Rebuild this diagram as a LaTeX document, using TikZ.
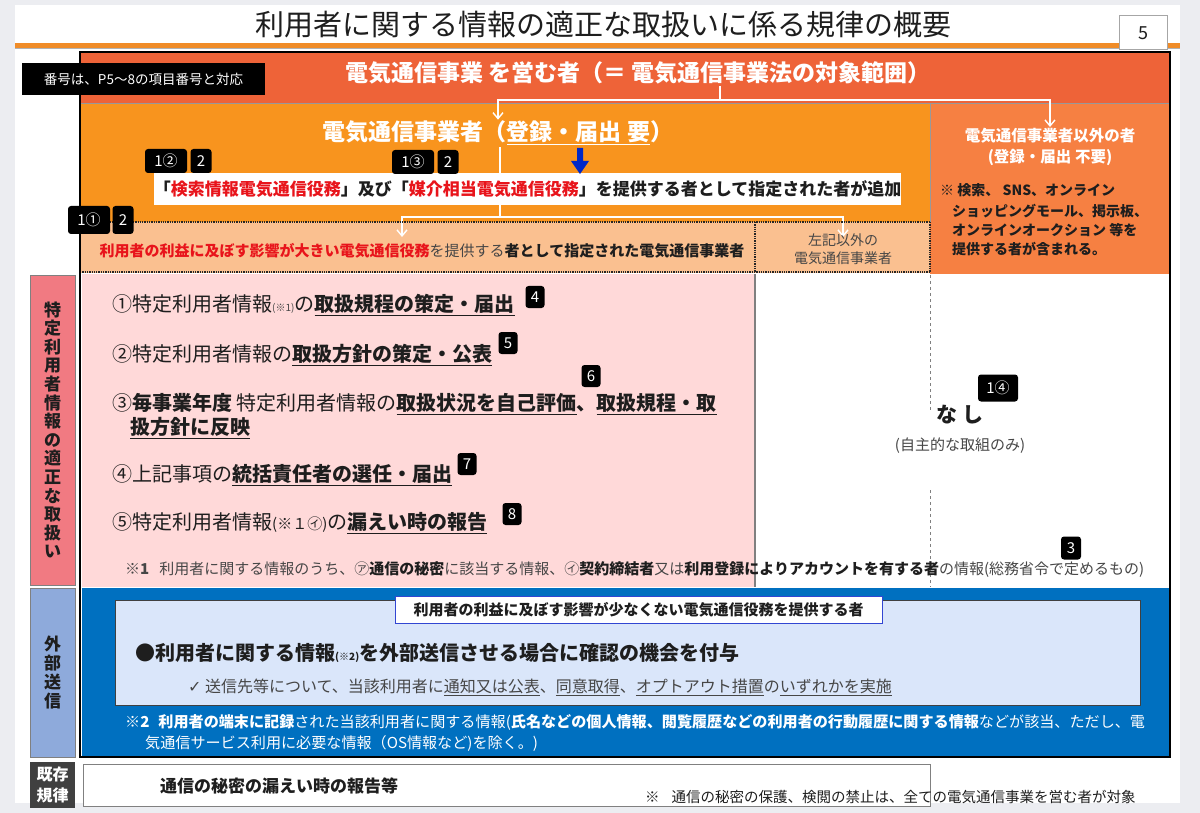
\documentclass[tikz,border=0pt]{standalone}
\usepackage{fontspec}
\setmainfont{Noto Sans CJK JP}
\newfontfamily\djv{DejaVu Sans}
\usetikzlibrary{arrows.meta}
\definecolor{bgc}{RGB}{236,237,241}
\definecolor{hdr}{RGB}{238,99,56}
\definecolor{org}{RGB}{248,148,30}
\definecolor{salmon}{RGB}{246,128,66}
\definecolor{peach}{RGB}{250,192,144}
\definecolor{pinkb}{RGB}{255,217,217}
\definecolor{pinkl}{RGB}{241,122,130}
\definecolor{blueb}{RGB}{0,112,192}
\definecolor{bluel}{RGB}{142,170,219}
\definecolor{lightb}{RGB}{218,230,250}
\definecolor{redt}{RGB}{232,20,27}
\definecolor{txt}{RGB}{30,30,30}
\definecolor{gtxt}{RGB}{70,70,70}
\definecolor{rulec}{RGB}{240,140,40}
\definecolor{darrow}{RGB}{0,40,200}
\definecolor{labblue}{RGB}{50,70,210}
\newcommand\fsz[1]{\fontsize{#1}{#1}\selectfont}
\newcommand\myul[1]{\underline{#1}}
\tikzset{
 badge/.style={fill=black, rounded corners=3pt, text=white, font=\fsz{15}, inner sep=0pt, minimum height=24pt, minimum width=21pt},
 wline/.style={draw=white, line width=1.4pt},
 warrow/.style={wline, -{Straight Barb[length=6pt,width=10pt]}},
 txtl/.style={anchor=west, inner sep=0pt, text=txt},
 sidelab/.style={draw=gray, line width=0.6pt, inner sep=0pt, align=center, font=\bfseries},
 dotl/.style={densely dotted, line width=1.3pt, draw=black!85},
}
\begin{document}
\begin{tikzpicture}[x=1pt,y=-1pt]
\useasboundingbox (0,0) rectangle (1200,813);
\fill[bgc] (0,0) rectangle (1200,813);
\fill[white] (15,5) rectangle (1180,803);
% title
\node[font=\fsz{29}, text=txt] (title) at (603,25) {利用者に関する情報の適正な取扱いに係る規律の概要};
\fill[rulec] (15,43) rectangle (1180,48);
\draw[black!30, line width=0.6pt] (15,48.5) -- (1180,48.5);
\node[draw=gray!70, fill=white, line width=1pt, minimum width=48pt, minimum height=34pt, font=\fsz{18}, text=txt] (page) at (1143,33) {5};
% header band
\fill[hdr] (80,52) rectangle (1170,103);
\node[text=white, font=\bfseries\fsz{23}] (hdrtext) at (638,73) {電気通信事業 を営む者（＝ 電気通信事業法の対象範囲）};
% orange boxes
\fill[org] (80,103) rectangle (930,222);
\fill[salmon] (930,103) rectangle (1170,275);
\draw[black!40, line width=0.6pt] (80,103) -- (1170,103);
\draw[black!40, line width=0.6pt] (930,103) -- (930,222);
\node[text=white, font=\bfseries\fsz{23}, inner sep=1pt] (carrier) at (498,133) {電気通信事業者（\myul{登録・届出 要}）};
\node[text=white, font=\bfseries\fontsize{15.5}{21}\selectfont, align=center, inner sep=1pt] (other) at (1050,147) {電気通信事業者以外の者\\(登録・届出 不要)};
\node[txtl, font=\bfseries\fsz{14}] (od1) at (940,190) {※ 検索、 SNS、オンライン};
\node[txtl, font=\bfseries\fsz{14}] (od2) at (952,211) {ショッピングモール、掲示板、};
\node[txtl, font=\bfseries\fsz{14}] (od3) at (952,230) {オンラインオークション 等を};
\node[txtl, font=\bfseries\fsz{14}] (od4) at (952,249) {提供する者が含まれる。};
% connector 1
\coordinate (h0) at (720,86);
\coordinate (hy) at (720,100);
\draw[wline] (h0) -- (hy);
\draw[warrow] (hy) -| (carrier.north);
\draw[warrow] (hy) -| (other.north);
% peach band
\fill[peach] (80,222) rectangle (930,273);
% connector 2
\coordinate (v0) at (500,147);
\coordinate (v1) at (500,217);
\coordinate (a1) at (402,237);
\coordinate (a2) at (843,237);
\draw[wline] (v0) -- (v1);
\draw[warrow] (v1) -| (a1);
\draw[warrow] (v1) -| (a2);
% white box
\node[fill=white, minimum width=745pt, minimum height=32pt, inner sep=0pt, font=\bfseries\fsz{17}, text=txt] (addbox) at (527.5,189) {「{\color{redt}検索情報電気通信役務}」及び「{\color{redt}媒介相当電気通信役務}」を提供する者として指定された者が追加};
\fill[darrow] (577,148) -- (583,148) -- (583,161) -- (589,161) -- (580,174) -- (571,161) -- (577,161) -- cycle;
\node[font=\fsz{15}, text=txt] (desig) at (422,251) {{\bfseries\color{redt}利用者の利益に及ぼす影響が大きい電気通信役務}{\color{gtxt}を提供する}{\bfseries 者として指定された電気通信事業者}};
\node[font=\fontsize{14}{18}\selectfont, text=gtxt, align=center] (others) at (843,249) {左記以外の\\電気通信事業者};
\draw[dotl] (80,222) -- (930,222);
\draw[dotl] (80,272) -- (930,272);
\draw[dotl] (755,222) -- (755,272);
\draw[dotl] (930,222) -- (930,272);
% badges top
\node[badge, minimum width=42pt] (b12) at (166,161) {1②};
\node[badge] (b12b) at (201,161) {2};
\node[badge, minimum width=42pt] (b13) at (413,162) {1③};
\node[badge] (b13b) at (448,162) {2};
% pink section
\fill[pinkb] (82,274) rectangle (755,587);
\fill[white] (755,274) rectangle (1170,587);
\draw[gray, line width=1.5pt] (755,274) -- (755,587);
\draw[gray, dashed, line width=0.6pt] (930,275) -- (930,410);
\draw[gray, dashed, line width=0.6pt] (930,490) -- (930,587);
\node[sidelab, fill=pinkl, minimum width=45pt, minimum height=310pt, font=\bfseries\fontsize{17}{18.6}\selectfont, text=txt] (lab1) at (52.5,430) {特\\定\\利\\用\\者\\情\\報\\の\\適\\正\\な\\取\\扱\\い};
\node[txtl, font=\fsz{20}] (it1) at (112,305) {①特定利用者情報{\fsz{10}\color{gtxt}(※1)}の{\bfseries\myul{取扱規程の策定・届出}}};
\node[txtl, font=\fsz{20}] (it2) at (112,355) {②特定利用者情報の{\bfseries\myul{取扱方針の策定・公表}}};
\node[txtl, font=\fsz{20}] (it3a) at (112,404) {③{\bfseries 毎事業年度} 特定利用者情報の{\bfseries\myul{取扱状況を自己評価}、\myul{取扱規程・取}}};
\node[txtl, font=\bfseries\fsz{20}] (it3b) at (130,428) {\myul{扱方針に反映}};
\node[txtl, font=\fsz{20}] (it4) at (112,475) {④上記事項の{\bfseries\myul{統括責任者の選任・届出}}};
\node[txtl, font=\fsz{20}] (it5) at (112,523) {⑤特定利用者情報{\fsz{15}(※１㋑)}の{\bfseries\myul{漏えい時の報告}}};
\node[badge, minimum height=22pt, minimum width=19pt] (b4) at (535,297) {4};
\node[badge, minimum height=22pt, minimum width=19pt] (b5) at (508,343) {5};
\node[badge, minimum height=22pt, minimum width=19pt] (b6) at (591,376) {6};
\node[badge, minimum height=22pt, minimum width=19pt] (b7) at (467,464) {7};
\node[badge, minimum height=22pt, minimum width=19pt] (b8) at (512,514) {8};
\node[txtl, font=\fsz{15}, text=gtxt] (fn1) at (125,570) {{\bfseries ※1}\hspace{10pt}利用者に関する情報のうち、㋐{\bfseries\color{txt}通信の秘密}に該当する情報、㋑{\bfseries\color{txt}契約締結者}又は{\bfseries\color{txt}利用登録によりアカウントを有する者}の情報(総務省令で定めるもの)};
\node[font=\bfseries\fsz{21}, text=txt] (nashi) at (960,415) {な\hspace{5pt}し};
\node[font=\fsz{15}, text=gtxt] (jishu) at (960,446) {(自主的な取組のみ)};
\node[badge, minimum width=40pt, minimum height=27pt] (b14) at (998,388) {1④};
\node[badge, minimum height=23pt, minimum width=20pt] (b3) at (1071,548) {3};
% blue section
\fill[blueb] (82,588) rectangle (1170,757);
\node[sidelab, fill=bluel, minimum width=45pt, minimum height=169pt, font=\bfseries\fontsize{17}{19}\selectfont, text=txt] (lab2) at (52.5,672.5) {外\\部\\送\\信};
\draw[fill=lightb, draw=black!75, line width=0.8pt] (115,600) rectangle (1140,705);
\node[fill=white, draw=labblue, line width=1pt, minimum width=487pt, minimum height=27pt, inner sep=0pt, font=\bfseries\fsz{15}, text=txt] (lab3) at (638.5,609.5) {利用者の利益に及ぼす影響が少なくない電気通信役務を提供する者};
\node[txtl, font=\bfseries\fsz{20}] (bul) at (135,653) {●利用者に関する情報{\fsz{10}(※2)}を外部送信させる場合に確認の機会を付与};
\node[txtl, font=\fsz{16}, text=gtxt] (chk) at (188,687) {{\djv ✓} 送信先等について、当該利用者に\myul{通知又は公表}、\myul{同意取得}、\myul{オプトアウト措置}の\myul{いずれかを実施}};
\node[txtl, font=\fsz{15.1}, text=white] (fn2a) at (125,722) {{\bfseries ※2}\hspace{9pt}{\bfseries 利用者の端末に記録}された当該利用者に関する情報({\bfseries 氏名などの個人情報、閲覧履歴などの利用者の行動履歴に関する情報}などが該当、ただし、電};
\node[txtl, font=\fsz{15.1}, text=white] (fn2b) at (145,744) {気通信サービス利用に必要な情報（OS情報など)を除く。)};
% main frame
\draw[black, line width=2pt] (80,52) rectangle (1170,757);
% items overlapping the frame
\node[fill=black, text=white, font=\fsz{13.5}, minimum width=243pt, minimum height=32pt, inner sep=0pt] (numnote) at (143.5,79) {番号は、P5～8の項目番号と対応};
\node[badge, minimum width=42pt, minimum height=28pt] (b11) at (89,220) {1①};
\node[badge, minimum height=28pt] (b11b) at (123,220) {2};
% bottom
\node[fill=black!75, inner sep=0pt, minimum width=45pt, minimum height=46pt, align=center, font=\bfseries\fontsize{16}{21}\selectfont, text=white] (lab4) at (52.5,785) {既存\\規律};
\draw[fill=white, draw=gray, line width=0.8pt] (83,764) rectangle (930,806);
\node[txtl, font=\bfseries\fsz{17}] (exist) at (160,786) {通信の秘密の漏えい時の報告等};
\node[txtl, font=\fsz{14.5}, text=txt] (note) at (645,797) {※\hspace{12pt}通信の秘密の保護、検閲の禁止は、全ての電気通信事業を営む者が対象};
\end{tikzpicture}
\end{document}
